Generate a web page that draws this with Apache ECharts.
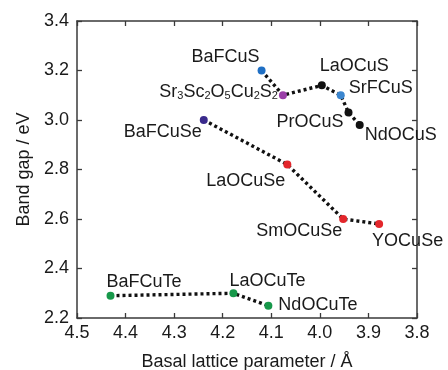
<!DOCTYPE html>
<html>
<head>
<meta charset="utf-8">
<script src="https://cdn.jsdelivr.net/npm/echarts@6/dist/echarts.min.js"></script>
<style>
  html, body { margin: 0; padding: 0; background: #fff; }
  #chart { width: 448px; height: 370px; }
</style>
</head>
<body>
<div id="chart"></div>
<script>
// values
const sulfideNames = ["BaFCuS", "Sr3Sc2O5Cu2S2", "LaOCuS", "SrFCuS", "PrOCuS", "NdOCuS"];
const sulfideLattice = [4.12, 4.076, 3.996, 3.957, 3.941, 3.918];
const sulfideGap = [3.2, 3.1, 3.14, 3.1, 3.03, 2.98];

const selenideNames = ["BaFCuSe", "LaOCuSe", "SmOCuSe", "YOCuSe"];
const selenideLattice = [4.239, 4.067, 3.952, 3.878];
const selenideGap = [3.0, 2.82, 2.6, 2.58];

const tellurideNames = ["BaFCuTe", "LaOCuTe", "NdOCuTe"];
const tellurideLattice = [4.431, 4.178, 4.106];
const tellurideGap = [2.29, 2.3, 2.25];

const xTicks = [3.8, 4.5, 0.1]; // min, max, step
const yTicks = [2.2, 3.4, 0.2];

// point colours
const dotColor = {
  BaFCuS: "#1f6fc4", Sr3Sc2O5Cu2S2: "#9a3fa8", LaOCuS: "#111", SrFCuS: "#3b86cf",
  PrOCuS: "#111", NdOCuS: "#111",
  BaFCuSe: "#3a2a8c", LaOCuSe: "#e3262b", SmOCuSe: "#e3262b", YOCuSe: "#e3262b",
  BaFCuTe: "#17984a", LaOCuTe: "#17984a", NdOCuTe: "#17984a",
};

// label placement: [align, dx, dy] relative to the dot centre
const labelAt = {
  BaFCuS: ["right", -2, -13],
  Sr3Sc2O5Cu2S2: ["right", -5, -5],
  LaOCuS: ["left", -2, -19],
  SrFCuS: ["left", 8, -7],
  PrOCuS: ["right", -5, 9],
  NdOCuS: ["left", 5, 10],
  BaFCuSe: ["right", -2, 12],
  LaOCuSe: ["right", -2, 16],
  SmOCuSe: ["right", -1, 12],
  YOCuSe: ["left", -7, 17],
  BaFCuTe: ["left", -4, -14],
  LaOCuTe: ["left", -4, -12],
  NdOCuTe: ["left", 10, -1],
};

const FONT = "Liberation Sans, Arial, sans-serif";
const INK = "#1a1a1a";

function labelText(name) {
  if (name === "Sr3Sc2O5Cu2S2") {
    return "{n|Sr}{s|3}{n|Sc}{s|2}{n|O}{s|5}{n|Cu}{s|2}{n|S}{s|2}";
  }
  return name;
}

function points(names, xs, ys) {
  return names.map((n, i) => {
    const [align, dx, dy] = labelAt[n];
    return {
      name: n,
      value: [xs[i], ys[i]],
      itemStyle: { color: dotColor[n] },
      label: {
        show: true,
        position: "inside",
        align: align,
        verticalAlign: "middle",
        offset: [dx, dy],
        formatter: labelText(n),
      },
    };
  });
}

function group(names, xs, ys) {
  return {
    type: "line",
    data: points(names, xs, ys),
    symbol: "circle",
    symbolSize: 8,
    z: 3,
    lineStyle: { color: "#111", width: 3.4, type: [3, 3] },
    label: {
      color: INK,
      fontFamily: FONT,
      fontSize: 18,
      rich: {
        n: { fontSize: 18, fontFamily: FONT, color: INK, verticalAlign: "bottom", lineHeight: 22 },
        s: { fontSize: 11, fontFamily: FONT, color: INK, verticalAlign: "bottom", lineHeight: 18 },
      },
    },
    emphasis: { disabled: true },
    animation: false,
  };
}

const chart = echarts.init(document.getElementById("chart"), null, { renderer: "canvas" });

const axisLine = { show: true, lineStyle: { color: "#3a3a3a", width: 1.5 } };
const tick = { show: true, inside: true, length: 5, lineStyle: { color: "#3a3a3a", width: 1.3 } };

chart.setOption({
  backgroundColor: "#fff",
  animation: false,
  grid: { left: 77, right: 31, top: 21, bottom: 52, containLabel: false, outerBoundsMode: "none" },
  xAxis: [
    {
      type: "value",
      inverse: true,
      min: xTicks[0], max: xTicks[1], interval: xTicks[2],
      name: "Basal lattice parameter / Å",
      nameLocation: "middle",
      nameGap: 35,
      nameTextStyle: { color: INK, fontFamily: FONT, fontSize: 18 },
      axisLine: axisLine,
      axisTick: tick,
      splitLine: { show: false },
      axisLabel: {
        color: INK, fontFamily: FONT, fontSize: 18, margin: 6,
        formatter: (v) => v.toFixed(1),
      },
    },
    {
      type: "value",
      inverse: true,
      position: "top",
      min: xTicks[0], max: xTicks[1], interval: xTicks[2],
      axisLine: axisLine,
      axisTick: tick,
      axisLabel: { show: false },
      splitLine: { show: false },
    },
  ],
  yAxis: [
    {
      type: "value",
      min: yTicks[0], max: yTicks[1], interval: yTicks[2],
      name: "Band gap / eV",
      nameLocation: "middle",
      nameGap: 28,
      nameTextStyle: { color: INK, fontFamily: FONT, fontSize: 18 },
      axisLine: axisLine,
      axisTick: tick,
      splitLine: { show: false },
      axisLabel: {
        color: INK, fontFamily: FONT, fontSize: 18, margin: 8,
        formatter: (v) => v.toFixed(1),
      },
    },
    {
      type: "value",
      position: "right",
      min: yTicks[0], max: yTicks[1], interval: yTicks[2],
      axisLine: axisLine,
      axisTick: tick,
      axisLabel: { show: false },
      splitLine: { show: false },
    },
  ],
  series: [
    group(sulfideNames, sulfideLattice, sulfideGap),
    group(selenideNames, selenideLattice, selenideGap),
    group(tellurideNames, tellurideLattice, tellurideGap),
  ],
});
</script>
</body>
</html>
